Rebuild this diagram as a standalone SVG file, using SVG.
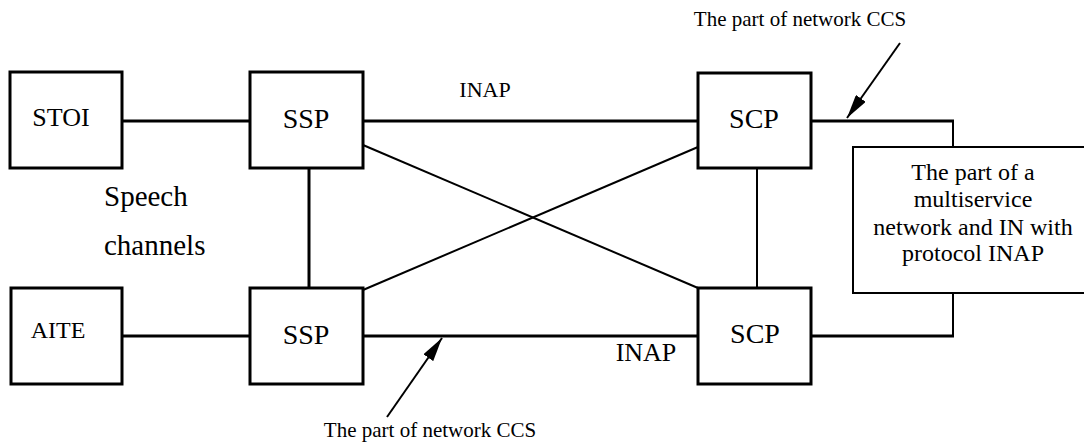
<svg xmlns="http://www.w3.org/2000/svg" width="1084" height="442" viewBox="0 0 1084 442">
<style>
text{font-family:"Liberation Serif","Times New Roman",serif;fill:#000}
.node{fill:#fff;stroke:#000;stroke-width:3}
.thick{stroke:#000;stroke-width:3;fill:none}
.thin{stroke:#000;stroke-width:2;fill:none}
.arrow{stroke:#000;stroke-width:2;fill:none;marker-end:url(#ah)}
.c{text-anchor:middle}
</style>
<defs>
<marker id="ah" viewBox="0 0 24 12" refX="24" refY="6" markerWidth="24" markerHeight="12" markerUnits="userSpaceOnUse" orient="auto">
<path d="M0,0 L24,6 L0,12 z" fill="#000"/>
</marker>
</defs>
<rect width="1084" height="442" fill="#fff"/>
<g id="connectors">
<line class="thick" x1="122" y1="121" x2="250" y2="121"/>
<line class="thick" x1="122" y1="336" x2="250" y2="336"/>
<line class="thick" x1="363" y1="121" x2="698" y2="121"/>
<line class="thick" x1="363" y1="336" x2="698" y2="336"/>
<line class="thick" x1="309" y1="168" x2="309" y2="288"/>
<line class="thin" x1="757" y1="168" x2="757" y2="288"/>
<line class="thin" x1="363" y1="145" x2="698" y2="288"/>
<line class="thin" x1="363" y1="290" x2="698" y2="147"/>
<line class="thick" x1="811" y1="121" x2="954" y2="121"/>
<line class="thick" x1="811" y1="336" x2="954" y2="336"/>
<line class="thin" x1="953" y1="120" x2="953" y2="147"/>
<line class="thin" x1="953" y1="292" x2="953" y2="337"/>
<line class="arrow" x1="900" y1="43" x2="847" y2="118"/>
<line class="arrow" x1="387" y1="417" x2="442" y2="338"/>
</g>
<g id="stoi"><rect class="node" x="10" y="72" width="112" height="96"/><text class="c" x="61" y="126" font-size="26">STOI</text></g>
<g id="aite"><rect class="node" x="11" y="288" width="111" height="96"/><text class="c" x="58" y="338" font-size="24">AITE</text></g>
<g id="ssp1"><rect class="node" x="250" y="72" width="113" height="96"/><text class="c" x="306" y="128" font-size="28">SSP</text></g>
<g id="ssp2"><rect class="node" x="250" y="288" width="113" height="96"/><text class="c" x="306" y="344" font-size="28">SSP</text></g>
<g id="scp1"><rect class="node" x="698" y="73" width="113" height="95"/><text class="c" x="754" y="128" font-size="28">SCP</text></g>
<g id="scp2"><rect class="node" x="698" y="288" width="113" height="96"/><text class="c" x="755" y="343" font-size="28">SCP</text></g>
<g id="network"><rect x="853" y="147" width="240" height="146" fill="#fff" stroke="#000" stroke-width="2"/>
<text class="c" font-size="24"><tspan x="973" y="180">The part of a</tspan><tspan x="973" y="207">multiservice</tspan><tspan x="973" y="235">network and IN with</tspan><tspan x="973" y="261">protocol INAP</tspan></text></g>
<g id="labels">
<text x="104" y="206" font-size="29">Speech</text>
<text x="104" y="255" font-size="29">channels</text>
<text class="c" x="485" y="97" font-size="22">INAP</text>
<text class="c" x="646" y="361" font-size="26">INAP</text>
<text class="c" x="800" y="26" font-size="21">The part of network CCS</text>
<text class="c" x="430" y="437" font-size="21">The part of network CCS</text>
</g>
</svg>
